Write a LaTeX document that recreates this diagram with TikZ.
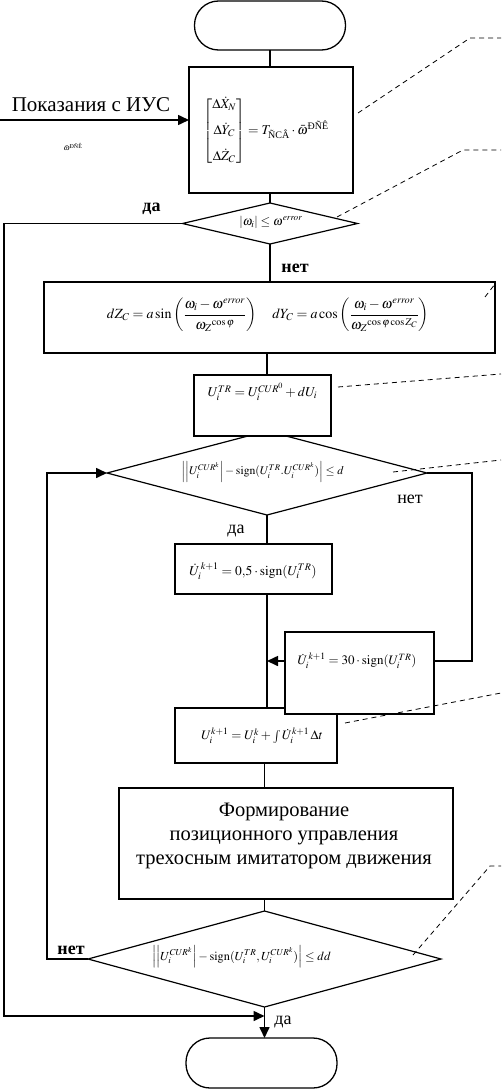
\documentclass[tikz,border=0pt]{standalone}
\usepackage{amsmath}
\usepackage{mathptmx}
\usepackage{fontspec}
\setmainfont{Liberation Serif}
\usetikzlibrary{arrows.meta,shapes.geometric,calc}
\begin{document}
\begin{tikzpicture}[x=1pt,y=-1pt,
  box/.style={draw,line width=1.6pt,fill=white,inner sep=0pt,outer sep=0pt},
  dec/.style={draw,diamond,line width=1.2pt,fill=white,inner sep=0pt,outer sep=0pt,aspect=3},
  term/.style={draw,line width=1.3pt,rounded corners=24pt,inner sep=0pt,outer sep=0pt},
  conn/.style={line width=1.6pt},
  arr/.style={conn,-{Triangle[length=11pt,width=10pt]}},
  lead/.style={line width=0.8pt,dash pattern=on 5pt off 4pt},
  lbl/.style={font=\fontsize{18}{20}\selectfont,inner sep=0pt},
  blbl/.style={font=\fontsize{18}{20}\selectfont\bfseries,inner sep=0pt},
  fm/.style={font=\fontsize{11.7}{13}\selectfont,inner sep=0pt},
  fmb/.style={font=\fontsize{13}{15}\selectfont,inner sep=0pt},
]
\useasboundingbox (0,0) rectangle (501,1089);

% terminals and boxes
\node[term,minimum width=151pt,minimum height=49pt] (t1) at (270,25.5) {};
\node[box,minimum width=164pt,minimum height=126pt] (b1) at (271,130) {};
\node[inner sep=0pt,font=\fontsize{13.5}{15}\selectfont] (b1t) at (266,131)
  {$\left[\begin{matrix}\Delta\dot X_N\\[10pt]\Delta\dot Y_C\\[10pt]\Delta\dot Z_C\end{matrix}\right] = T_{\text{ÑCÂ}}\cdot\bar\omega^{\text{ÐÑÊ}}$};

\node[dec,minimum width=175pt,minimum height=41pt] (d1) at (270,223.5) {};
\node[inner sep=0pt,font=\fontsize{12.5}{14}\selectfont] (d1t) at (271,222) {$\left|\omega_i\right|\le\omega^{\mathit{error}}$};

\node[box,minimum width=451pt,minimum height=71pt] (b2) at (269.5,317.5) {};
\node[inner sep=0pt,font=\fontsize{14}{16}\selectfont] (b2t) at (268,315)
  {$dZ_C = a\sin\left(\dfrac{\omega_i-\omega^{\mathit{error}}\rule[-3pt]{0pt}{3pt}}{\rule{0pt}{13pt}\omega_Z{}^{\cos\varphi}}\right)\quad dY_C = a\cos\left(\dfrac{\omega_i-\omega^{\mathit{error}}\rule[-3pt]{0pt}{3pt}}{\rule{0pt}{13pt}\omega_Z{}^{\cos\varphi\cos Z_C}}\right)$};

\node[dec,minimum width=320pt,minimum height=84pt] (d2) at (267,473) {};
\node[fm] (d2t) at (262.5,472)
  {$\Bigl|\Bigl|U_i^{CUR^k}\Bigr|-\mathrm{sign}(U_i^{TR}.U_i^{CUR^k})\Bigr|\le d$};

\node[box,minimum width=137pt,minimum height=61pt] (b3) at (262.5,405.5) {};
\node[inner sep=0pt,font=\fontsize{13.5}{15}\selectfont] (b3t) at (262.5,392) {$U_i^{TR}=U_i^{CUR^0}+dU_i$};

\node[box,minimum width=157pt,minimum height=50pt] (b4) at (253.5,569) {};
\node[inner sep=0pt,font=\fontsize{13.5}{15}\selectfont] (b4t) at (253,571) {$\dot U_i^{\,k+1} = 0{,}5\cdot\mathrm{sign}(U_i^{TR})$};

\node[box,minimum width=162pt,minimum height=55pt] (b6) at (256,735.5) {};
\node[fmb] (b6t) at (262,736) {$U_i^{k+1} = U_i^{k} + \int \dot U_i^{k+1}\,\Delta t$};

\node[box,minimum width=149pt,minimum height=82pt] (b5) at (359.5,673) {};
\node[fmb] (b5t) at (357,661) {$\dot U_i^{\,k+1} = 30\cdot\mathrm{sign}(U_i^{TR})$};

\node[box,minimum width=334pt,minimum height=111pt] (b7) at (286,843.5) {};
\node[inner sep=0pt,align=center,font=\fontsize{20.5}{24}\selectfont] (b7t) at (284,836)
  {Формирование\\позиционного управления\\трехосным имитатором движения};

\node[dec,minimum width=353pt,minimum height=96pt] (d4) at (264.5,959) {};
\node[inner sep=0pt,font=\fontsize{12.3}{14}\selectfont] (d4t) at (241.5,957)
  {$\Bigl|\Bigl|U_i^{CUR^k}\Bigr|-\mathrm{sign}(U_i^{TR},U_i^{CUR^k})\Bigr|\le dd$};

\node[term,minimum width=151pt,minimum height=50pt] (t2) at (261.5,1063) {};

% input
\node[inner sep=0pt,font=\fontsize{21}{24}\selectfont] (in) at (91,105) {Показания с ИУС};
\coordinate (inS) at (0,120);
\draw[arr] (inS) -- (inS -| b1.west);
\node[inner sep=0pt,font=\fontsize{8}{9}\selectfont] (om) at (73,147) {$\bar\omega^{\text{ÐÑÊ}}$};

% connectors
\draw[conn] (t1.south) -- (t1.south |- b1.north);
\draw[conn] (b1.south -| d1.north) -- (d1.north);
\draw[conn] (d1.south) -- (d1.south |- b2.north);
\draw[conn] (b2.south -| d2.north) -- (b3.north -| d2.north);
\draw[conn] (d2.south) -- (d2.south |- b4.north);
\draw[conn] (b4.south -| d2.south) -- (b6.north -| d2.south);
\coordinate (m5) at (472,661);
\draw[conn] (d2.east) -| (m5) -- (m5 -| b5.east);
\draw[arr] (m5 -| b5.west) -- (m5 -| d2.south);
\draw[conn] (b6.south -| d4.north) -- (b7.north -| d4.north);
\draw[conn] (b7.south -| d4.north) -- (d4.north);
\draw[arr] (d4.south) -- (d4.south |- t2.north);
\coordinate (m1) at (4,1016);
\draw[arr] (d1.west) -| (m1) -- (m1 -| d4.south);
\coordinate (m2) at (47,959);
\draw[arr] (d4.west) -- (m2) |- (d2.west);

% labels
\node[blbl] (l1) at (151.5,209) {да};
\node[blbl] (l2) at (295,268) {нет};
\node[lbl] (l3) at (410,499) {нет};
\node[lbl] (l4) at (236,531) {да};
\node[blbl] (l5) at (71,950) {нет};
\node[lbl] (l6) at (283,1022) {да};

% leaders
\coordinate (a1) at (358,113); \coordinate (a1b) at (470,38); \coordinate (a1c) at (501,38);
\draw[lead] (a1) -- (a1b) -- (a1c);
\coordinate (a2) at (337,217); \coordinate (a2b) at (463,150); \coordinate (a2c) at (501,150);
\draw[lead] (a2) -- (a2b) -- (a2c);
\coordinate (a3) at (485,297); \coordinate (a3b) at (495,284);
\draw[lead] (a3) -- (a3b);
\coordinate (a4) at (338,387); \coordinate (a4b) at (501,374);
\draw[lead] (a4) -- (a4b);
\coordinate (a5) at (393,472); \coordinate (a5b) at (501,460);
\draw[lead] (a5) -- (a5b);
\coordinate (a6) at (345,723); \coordinate (a6b) at (501,693);
\draw[lead] (a6) -- (a6b);
\coordinate (a7) at (413,955); \coordinate (a7b) at (490,866); \coordinate (a7c) at (501,866);
\draw[lead] (a7) -- (a7b) -- (a7c);
\end{tikzpicture}
\end{document}
